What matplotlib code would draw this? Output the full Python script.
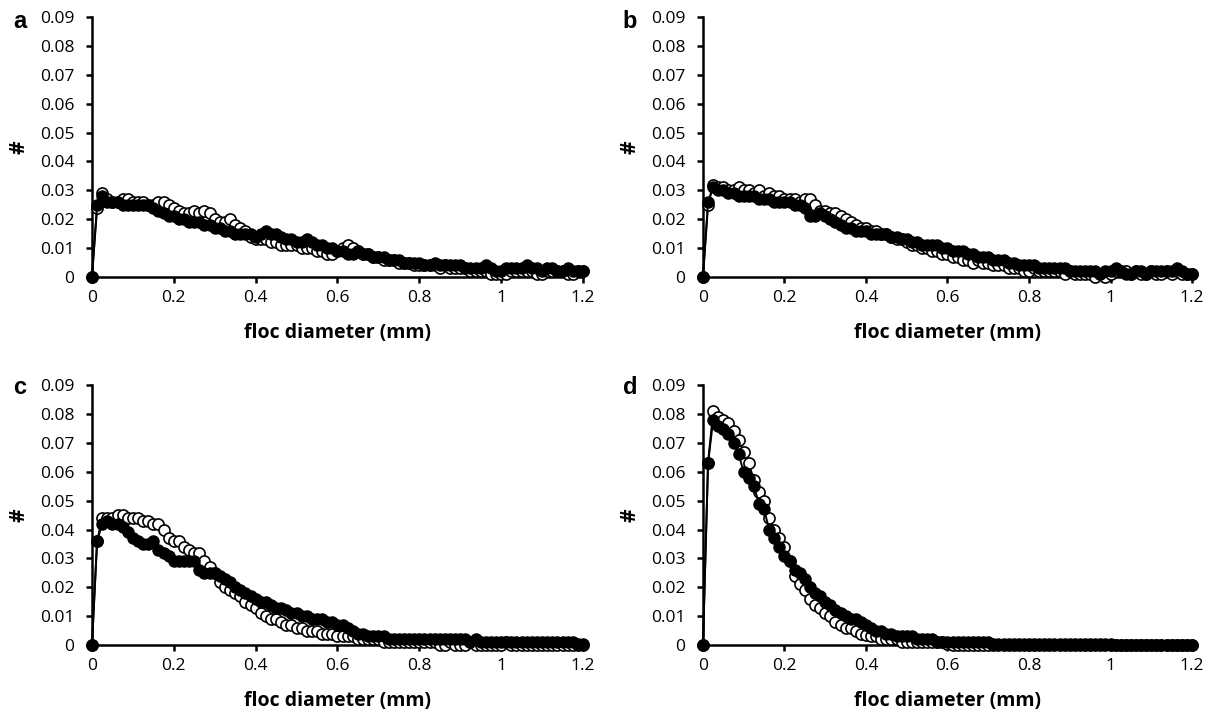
import matplotlib.pyplot as plt
from matplotlib.ticker import FixedLocator, FixedFormatter

plt.rcParams['font.family'] = ['Open Sans', 'DejaVu Sans']

# floc diameter (mm)
x = [0,
     0.0125, 0.025, 0.0375, 0.05, 0.0625, 0.075, 0.0875, 0.1,
     0.1125, 0.125, 0.1375, 0.15, 0.1625, 0.175, 0.1875, 0.2,
     0.2125, 0.225, 0.2375, 0.25, 0.2625, 0.275, 0.2875, 0.3,
     0.3125, 0.325, 0.3375, 0.35, 0.3625, 0.375, 0.3875, 0.4,
     0.4125, 0.425, 0.4375, 0.45, 0.4625, 0.475, 0.4875, 0.5,
     0.5125, 0.525, 0.5375, 0.55, 0.5625, 0.575, 0.5875, 0.6,
     0.6125, 0.625, 0.6375, 0.65, 0.6625, 0.675, 0.6875, 0.7,
     0.7125, 0.725, 0.7375, 0.75, 0.7625, 0.775, 0.7875, 0.8,
     0.8125, 0.825, 0.8375, 0.85, 0.8625, 0.875, 0.8875, 0.9,
     0.9125, 0.925, 0.9375, 0.95, 0.9625, 0.975, 0.9875, 1.0,
     1.0125, 1.025, 1.0375, 1.05, 1.0625, 1.075, 1.0875, 1.1,
     1.1125, 1.125, 1.1375, 1.15, 1.1625, 1.175, 1.1875, 1.2]

# panel a
a_filled = [0,
            .025, .028, .026, .026, .026, .025, .025, .025,
            .025, .025, .025, .024, .023, .022, .021, .021,
            .020, .020, .019, .019, .019, .018, .018, .017,
            .017, .016, .016, .015, .015, .015, .015, .014,
            .015, .016, .015, .015, .014, .013, .013, .012,
            .012, .013, .012, .011, .011, .010, .010, .009,
            .009, .008, .008, .009, .008, .008, .007, .007,
            .007, .006, .006, .006, .005, .005, .005, .005,
            .004, .004, .005, .004, .004, .004, .004, .004,
            .003, .003, .003, .003, .004, .003, .002, .002,
            .003, .003, .003, .003, .004, .003, .003, .002,
            .003, .003, .002, .002, .003, .002, .002, .002]
a_open = [0,
          .024, .029, .027, .026, .026, .027, .027, .026,
          .026, .026, .025, .025, .026, .026, .025, .024,
          .023, .022, .022, .023, .022, .023, .022, .020,
          .019, .019, .020, .018, .017, .016, .014, .013,
          .013, .013, .012, .012, .011, .011, .011, .011,
          .010, .010, .010, .009, .009, .008, .008, .009,
          .010, .011, .010, .009, .008, .008, .007, .007,
          .006, .006, .006, .005, .005, .005, .004, .004,
          .004, .004, .004, .003, .004, .003, .003, .003,
          .003, .002, .002, .002, .002, .001, .001, .001,
          .001, .002, .002, .002, .002, .002, .001, .001,
          .002, .002, .002, .002, .001, .001, .002, .002]

# panel b
b_filled = [0,
            .026, .031, .030, .030, .029, .029, .028, .028,
            .028, .028, .027, .027, .027, .026, .026, .026,
            .026, .025, .025, .024, .021, .021, .022, .021,
            .020, .019, .018, .017, .017, .016, .016, .016,
            .015, .015, .015, .015, .014, .014, .013, .013,
            .012, .012, .011, .011, .011, .011, .010, .010,
            .009, .009, .009, .008, .008, .007, .007, .007,
            .006, .006, .006, .005, .005, .004, .004, .004,
            .004, .003, .003, .003, .003, .003, .003, .002,
            .002, .002, .002, .002, .002, .001, .002, .002,
            .003, .002, .001, .001, .002, .002, .001, .002,
            .002, .002, .002, .002, .003, .002, .001, .001]
b_open = [0,
          .025, .032, .031, .031, .030, .030, .031, .030,
          .030, .029, .030, .028, .029, .028, .028, .027,
          .027, .027, .026, .027, .027, .025, .023, .023,
          .022, .022, .021, .020, .019, .018, .017, .017,
          .016, .016, .015, .015, .014, .013, .013, .012,
          .011, .011, .010, .010, .009, .009, .008, .008,
          .007, .007, .006, .006, .005, .006, .005, .005,
          .004, .004, .004, .003, .003, .003, .002, .002,
          .003, .002, .002, .002, .002, .002, .001, .002,
          .001, .001, .001, .001, .000, .001, .000, .001,
          .002, .002, .002, .001, .002, .001, .001, .002,
          .001, .001, .002, .001, .002, .001, .001, .001]

# panel c
c_filled = [0,
            .036, .042, .043, .042, .042, .041, .039, .037,
            .036, .035, .035, .036, .033, .032, .031, .029,
            .029, .029, .029, .029, .026, .025, .025, .025,
            .024, .023, .022, .020, .019, .018, .017, .016,
            .015, .015, .014, .013, .013, .012, .011, .011,
            .010, .010, .009, .009, .009, .008, .008, .007,
            .007, .006, .005, .004, .004, .003, .003, .003,
            .003, .002, .002, .002, .002, .002, .002, .002,
            .002, .002, .002, .002, .002, .002, .002, .002,
            .002, .001, .002, .001, .001, .001, .001, .001,
            .001, .001, .001, .001, .001, .001, .001, .001,
            .001, .001, .001, .001, .001, .001, .0005, .0005]
c_open = [0,
          .036, .044, .044, .044, .045, .045, .044, .044,
          .044, .043, .043, .042, .042, .040, .037, .036,
          .036, .034, .033, .032, .032, .029, .027, .025,
          .022, .020, .019, .018, .017, .015, .014, .013,
          .011, .010, .009, .009, .008, .007, .007, .006,
          .006, .005, .005, .005, .004, .004, .004, .003,
          .003, .003, .003, .002, .002, .002, .002, .002,
          .001, .001, .001, .001, .001, .001, .001, .001,
          .001, .001, .001, .000, .000, .001, .000, .000,
          .000, .001, .000, .000, .000, .000, .000, .000,
          .001, .000, .000, .000, .000, .000, .000, .000,
          .000, .000, .000, .000, .000, .000, .000, .000]

# panel d
d_filled = [0,
            .063, .078, .076, .075, .073, .070, .066, .060,
            .058, .055, .049, .047, .040, .037, .034, .031,
            .029, .026, .025, .023, .020, .018, .017, .015,
            .014, .012, .011, .010, .009, .009, .008, .007,
            .006, .005, .005, .004, .004, .003, .003, .003,
            .003, .002, .002, .002, .002, .001, .001, .001,
            .001, .001, .001, .001, .001, .001, .001, .001,
            .0005, .0005, .0005, .0005, .0005, .0005, .0005, .0005,
            .0005, .0005, .0005, .0005, .0005, .0005, .0005, .0005,
            .0005, .0005, .0005, .0005, .0005, .0005, .0005, .0005,
            0, 0, 0, 0, 0, 0, 0, 0,
            0, 0, 0, 0, 0, 0, 0, 0]
d_open = [0,
          .063, .081, .079, .078, .077, .074, .071, .067,
          .063, .057, .053, .050, .044, .040, .037, .034,
          .029, .024, .021, .019, .016, .014, .013, .011,
          .010, .008, .007, .006, .006, .005, .004, .0035,
          .003, .003, .002, .002, .002, .002, .001, .001,
          .001, .001, .001, .001, .001, .001, .001, .0005,
          0, 0, 0, 0, 0, 0, 0, 0,
          0, 0, 0, 0, 0, 0, 0, 0,
          0, 0, 0, 0, 0, 0, 0, 0,
          0, 0, 0, 0, 0, 0, 0, 0,
          0, 0, 0, 0, 0, 0, 0, 0,
          0, 0, 0, 0, 0, 0, 0, 0]

panels = [('a', a_filled, a_open), ('b', b_filled, b_open),
          ('c', c_filled, c_open), ('d', d_filled, d_open)]

# axes boxes in figure fractions (left, bottom, width, height)
boxes = [[0.0762, 0.611, 0.4068, 0.365], [0.5824, 0.611, 0.4052, 0.365],
         [0.0762, 0.094, 0.4068, 0.365], [0.5824, 0.094, 0.4052, 0.365]]
# panel letter positions (pixels from top-left)
letter_pos = [(20, 22), (630, 22), (20, 388), (630, 388)]

xticks = [0, 0.2, 0.4, 0.6, 0.8, 1.0, 1.2]
xticklabels = ['0', '0.2', '0.4', '0.6', '0.8', '1', '1.2']
yticks = [0, 0.01, 0.02, 0.03, 0.04, 0.05, 0.06, 0.07, 0.08, 0.09]
yticklabels = ['0', '0.01', '0.02', '0.03', '0.04', '0.05', '0.06', '0.07', '0.08', '0.09']

fig = plt.figure(figsize=(12.07, 7.12), dpi=100)

for (letter, filled, opn), box, (lx, ly) in zip(panels, boxes, letter_pos):
    ax = fig.add_axes(box)
    ax.plot(x, opn, '-o', color='black', mfc='white', mec='black', ms=8,
            mew=1.2, lw=1.4, clip_on=False, zorder=3)
    ax.plot(x, filled, '-o', color='black', mfc='black', mec='black', ms=8,
            lw=1.4, clip_on=False, zorder=4)
    ax.set_xlim(0, 1.2)
    ax.set_ylim(0, 0.09)
    ax.xaxis.set_major_locator(FixedLocator(xticks))
    ax.xaxis.set_major_formatter(FixedFormatter(xticklabels))
    ax.yaxis.set_major_locator(FixedLocator(yticks))
    ax.yaxis.set_major_formatter(FixedFormatter(yticklabels))
    for s in ['top', 'right']:
        ax.spines[s].set_visible(False)
    for s in ['left', 'bottom']:
        ax.spines[s].set_linewidth(1.8)
    ax.tick_params(direction='out', length=4.5, width=1.8, labelsize=12.5)
    ax.tick_params(axis='y', pad=8)
    ax.tick_params(axis='x', pad=5)
    ax.set_xlabel('floc diameter (mm)', fontsize=14, fontweight='bold', labelpad=12)
    ax.set_ylabel('#', fontsize=15, fontweight='bold')
    ax.yaxis.set_label_coords(-0.128, 0.5)
    fig.text(lx / 1207, 1 - ly / 712, letter, fontsize=17, fontweight='bold',
             family='Liberation Sans', ha='center', va='center')

fig.savefig('out.png', dpi=100)
